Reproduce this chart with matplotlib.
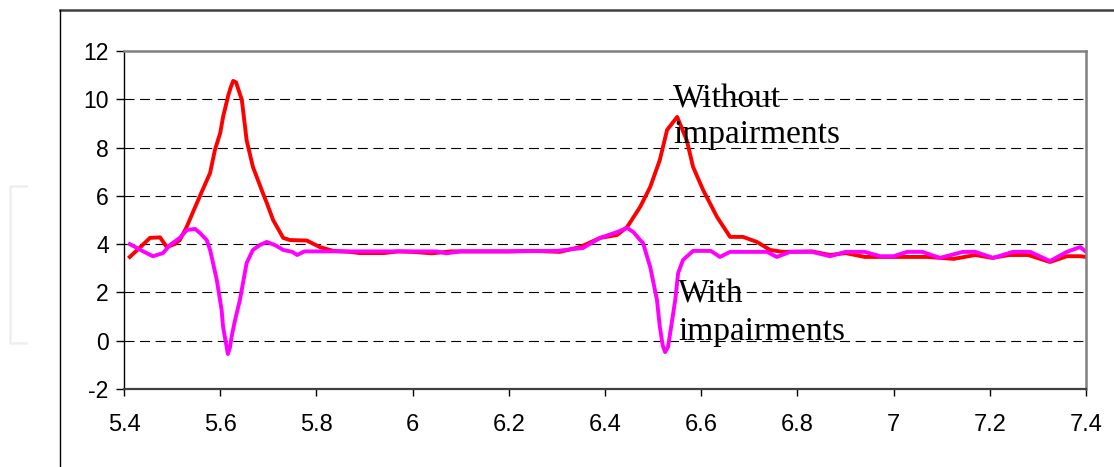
import numpy as np
import matplotlib
matplotlib.use("Agg")
import matplotlib.pyplot as plt
from matplotlib.lines import Line2D

# values
x_without = [5.412, 5.43, 5.454, 5.475, 5.489, 5.505, 5.516, 5.53, 5.545, 5.558,
             5.579, 5.589, 5.6, 5.606, 5.617, 5.622, 5.627, 5.633, 5.645, 5.655,
             5.668, 5.689, 5.697, 5.71, 5.731, 5.745, 5.78, 5.807, 5.835, 5.87,
             5.89, 5.94, 5.97, 6.0, 6.04, 6.08, 6.14, 6.2, 6.25, 6.306,
             6.348, 6.39, 6.425, 6.446, 6.473, 6.494, 6.514, 6.529, 6.55, 6.57,
             6.583, 6.604, 6.633, 6.66, 6.687, 6.716, 6.743, 6.77, 6.83, 6.868,
             6.9, 6.94, 7.0, 7.07, 7.125, 7.17, 7.205, 7.24, 7.28, 7.325,
             7.36, 7.388, 7.4]
y_without = [3.47, 3.8, 4.26, 4.28, 3.88, 4.0, 4.17, 4.7, 5.4, 6.0,
             6.95, 7.9, 8.6, 9.27, 10.18, 10.5, 10.76, 10.7, 9.97, 8.3,
             7.2, 6.1, 5.7, 5.0, 4.26, 4.17, 4.15, 3.88, 3.72, 3.68,
             3.63, 3.63, 3.7, 3.68, 3.62, 3.7, 3.7, 3.7, 3.72, 3.68,
             3.88, 4.26, 4.38, 4.71, 5.54, 6.37, 7.49, 8.73, 9.27, 8.3,
             7.2, 6.24, 5.12, 4.3, 4.3, 4.09, 3.76, 3.68, 3.7, 3.55,
             3.63, 3.47, 3.47, 3.47, 3.39, 3.55, 3.43, 3.55, 3.55, 3.26,
             3.5, 3.5, 3.47]

x_with = [5.412, 5.44, 5.46, 5.481, 5.496, 5.516, 5.531, 5.548, 5.558, 5.572,
          5.579, 5.593, 5.603, 5.606, 5.612, 5.616, 5.62, 5.625, 5.631, 5.641,
          5.655, 5.668, 5.683, 5.697, 5.715, 5.731, 5.75, 5.76, 5.775, 5.85,
          5.95, 6.05, 6.07, 6.1, 6.2, 6.3, 6.354, 6.39, 6.425, 6.446,
          6.459, 6.473, 6.479, 6.494, 6.508, 6.514, 6.52, 6.525, 6.531, 6.54,
          6.546, 6.552, 6.562, 6.583, 6.62, 6.639, 6.66, 6.737, 6.757, 6.785,
          6.83, 6.868, 6.9, 6.94, 6.972, 7.0, 7.028, 7.06, 7.096, 7.144,
          7.17, 7.207, 7.248, 7.284, 7.325, 7.36, 7.388, 7.4]
y_with = [4.0, 3.7, 3.5, 3.63, 3.97, 4.26, 4.59, 4.63, 4.46, 4.17,
          3.76, 2.51, 1.27, 0.57, -0.1, -0.55, -0.3, 0.3, 0.86, 1.69,
          3.22, 3.76, 3.97, 4.09, 3.95, 3.76, 3.68, 3.55, 3.7, 3.7,
          3.7, 3.7, 3.62, 3.7, 3.7, 3.72, 3.84, 4.26, 4.5, 4.67,
          4.5, 4.17, 4.05, 3.05, 1.69, 0.57, -0.2, -0.47, -0.26, 0.9,
          1.69, 2.8, 3.34, 3.72, 3.72, 3.47, 3.68, 3.68, 3.47, 3.68,
          3.68, 3.5, 3.68, 3.68, 3.5, 3.5, 3.68, 3.68, 3.43, 3.68,
          3.68, 3.43, 3.68, 3.68, 3.3, 3.68, 3.88, 3.68]

x_ticks = [5.4, 5.6, 5.8, 6.0, 6.2, 6.4, 6.6, 6.8, 7.0, 7.2, 7.4]
x_tick_labels = ["5.4", "5.6", "5.8", "6", "6.2", "6.4", "6.6", "6.8", "7", "7.2", "7.4"]
y_ticks = [-2, 0, 2, 4, 6, 8, 10, 12]

plt.rcParams['font.family'] = ['Liberation Sans', 'DejaVu Sans']
plt.rcParams['axes.unicode_minus'] = False

fig = plt.figure(figsize=(11.14, 4.67), dpi=100)
ax = fig.add_axes([0.1113, 0.167, 0.8636, 0.7238])

ax.plot(x_without, y_without, color='#ff0000', lw=2.8, solid_joinstyle='round')
ax.plot(x_with, y_with, color='#ff00ff', lw=2.8, solid_joinstyle='round')

ax.set_xlim(5.4, 7.4)
ax.set_ylim(-2, 12)
ax.set_xticks(x_ticks)
ax.set_xticklabels(x_tick_labels)
ax.set_yticks(y_ticks)

# dashed grid at the inner ticks only
for yv in y_ticks[1:-1]:
    ax.axhline(yv, color='black', lw=0.8, ls=(0, (9, 5)), zorder=0)

ax.tick_params(axis='y', direction='out', length=6, width=1, pad=5, labelsize=16.5)
ax.tick_params(axis='x', direction='out', length=5, width=1, pad=13, labelsize=17)

ax.spines['top'].set_color('#808080')
ax.spines['top'].set_linewidth(1.8)
ax.spines['right'].set_color('#808080')
ax.spines['right'].set_linewidth(1.8)
ax.spines['left'].set_color('black')
ax.spines['left'].set_linewidth(1.0)
ax.spines['bottom'].set_color('#404040')
ax.spines['bottom'].set_linewidth(1.6)

serif = ['Liberation Serif', 'DejaVu Serif']
ax.text(6.541, 9.68, "Without", family=serif, fontsize=24, va='baseline', ha='left')
ax.text(6.541, 8.19, "impairments", family=serif, fontsize=24, va='baseline', ha='left')
ax.text(6.552, 1.60, "With", family=serif, fontsize=24, va='baseline', ha='left')
ax.text(6.552, 0.03, "impairments", family=serif, fontsize=24, va='baseline', ha='left')

# outer chart frame (cut off at right and bottom) and faint bracket at the left
W, H = 1114.0, 467.0
fig.add_artist(Line2D([60 / W, 1.0], [1 - 10 / H, 1 - 10 / H], color='#404040', lw=1.8))
fig.add_artist(Line2D([60 / W, 60 / W], [1 - 10 / H, 0.0], color='black', lw=1.0))
fig.add_artist(Line2D([26 / W, 10 / W, 10 / W, 26 / W],
                      [1 - 186 / H, 1 - 186 / H, 1 - 343 / H, 1 - 343 / H],
                      color='#eeeeee', lw=1.8))

fig.savefig("out.png", dpi=100)
